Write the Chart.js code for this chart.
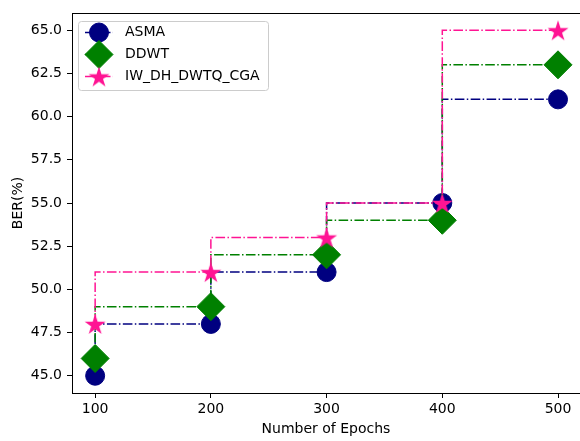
<!DOCTYPE html>
<html><head><meta charset="utf-8">
<script src="https://cdn.jsdelivr.net/npm/chart.js@4.4.1/dist/chart.umd.min.js"></script>
<style>html,body{margin:0;padding:0;background:#fff}#wrap{width:580px;height:441px}</style>
</head><body><div id="wrap"><canvas id="c" width="580" height="441"></canvas></div>
<script>
// ---- data ----
const epochs = [100, 200, 300, 400, 500];
const asma = [45, 48, 51, 55, 61];
const ddwt = [46, 49, 52, 54, 63];
const iwdh = [48, 51, 53, 55, 65];
const seriesNames = ['ASMA', 'DDWT', 'IW_DH_DWTQ_CGA'];
const xTickValues = [100, 200, 300, 400, 500];
const yTickValues = [45, 47.5, 50, 52.5, 55, 57.5, 60, 62.5, 65];

// ---- styles ----
const FONT = '"DejaVu Sans", sans-serif';
const colors = ['#000080', '#008000', '#FF1493'];
const dash = [9.6, 2.4, 1.5, 2.4];

function makeStar(r, color) {
  const s = Math.ceil(r * 2 + 2);
  const c = document.createElement('canvas');
  c.width = s; c.height = s;
  const g = c.getContext('2d');
  g.fillStyle = color;
  g.beginPath();
  const cx = s / 2, cy = s / 2 + r * 0.1;
  for (let i = 0; i < 10; i++) {
    const a = -Math.PI / 2 + i * Math.PI / 5;
    const rr = i % 2 ? r * 0.382 : r;
    const px = cx + rr * Math.cos(a), py = cy + rr * Math.sin(a);
    if (i === 0) g.moveTo(px, py); else g.lineTo(px, py);
  }
  g.closePath();
  g.fill();
  return c;
}
const starImg = makeStar(11, colors[2]);

function pts(ys) { return epochs.map((x, i) => ({x: x, y: ys[i]})); }

const styles = [
  {pointStyle: 'circle', radius: 9.5},
  {pointStyle: 'rectRot', radius: 14},
  {pointStyle: starImg, radius: 11}
];
const seriesData = [asma, ddwt, iwdh];

const datasets = seriesData.map((ys, i) => ({
  label: seriesNames[i],
  data: pts(ys),
  borderColor: colors[i],
  backgroundColor: colors[i],
  borderWidth: 1.5,
  borderDash: dash,
  stepped: 'after',
  pointStyle: styles[i].pointStyle,
  pointRadius: styles[i].radius,
  pointBorderWidth: 1,
  pointBorderColor: colors[i],
  pointBackgroundColor: colors[i],
  order: 2 - i,
  clip: false
}));

const framePlugin = {
  id: 'frame',
  afterDraw(chart) {
    const ctx = chart.ctx;
    const a = chart.chartArea;
    ctx.save();
    ctx.strokeStyle = '#000';
    ctx.lineWidth = 1;
    ctx.beginPath();
    ctx.moveTo(a.left, a.top + 0.5);
    ctx.lineTo(a.right, a.top + 0.5);
    ctx.stroke();

    // legend
    const bx = 78.5, by = 21.5, bw = 190, bh = 69;
    ctx.fillStyle = 'rgba(255,255,255,0.8)';
    ctx.strokeStyle = '#cccccc';
    ctx.lineWidth = 1;
    ctx.beginPath();
    ctx.roundRect(bx, by, bw, bh, 3);
    ctx.fill();
    ctx.stroke();
    const rowsY = [32.5, 54.5, 76.5];
    for (let i = 0; i < 3; i++) {
      const y = rowsY[i];
      ctx.setLineDash(dash);
      ctx.strokeStyle = colors[i];
      ctx.lineWidth = 1.5;
      ctx.beginPath();
      ctx.moveTo(85, y);
      ctx.lineTo(113, y);
      ctx.stroke();
      ctx.setLineDash([]);
      ctx.fillStyle = colors[i];
      ctx.strokeStyle = colors[i];
      ctx.lineWidth = 1;
      if (typeof styles[i].pointStyle === 'string') {
        ctx.beginPath();
        if (styles[i].pointStyle === 'circle') {
          ctx.arc(99, y, styles[i].radius, 0, Math.PI * 2);
        } else {
          const r = styles[i].radius;
          ctx.moveTo(99 - r, y); ctx.lineTo(99, y - r); ctx.lineTo(99 + r, y); ctx.lineTo(99, y + r); ctx.closePath();
        }
        ctx.fill();
        ctx.stroke();
      } else {
        const img = styles[i].pointStyle;
        ctx.drawImage(img, 99 - img.width / 2, y - img.height / 2);
      }
      ctx.fillStyle = '#000';
      ctx.font = '14px ' + FONT;
      ctx.textAlign = 'left';
      ctx.textBaseline = 'middle';
      ctx.fillText(seriesNames[i], 125, y);
    }
    ctx.restore();
  }
};

new Chart(document.getElementById('c'), {
  type: 'line',
  data: {datasets: datasets},
  options: {
    responsive: false,
    animation: false,
    devicePixelRatio: 1,
    layout: {autoPadding: false, padding: {left: 0, right: 0, top: 13, bottom: 0}},
    plugins: {legend: {display: false}, tooltip: {enabled: false}},
    scales: {
      x: {
        type: 'linear', min: 80, max: 519,
        afterBuildTicks: s => { s.ticks = xTickValues.map(v => ({value: v})); },
        afterFit: s => { s.height = 48; s.paddingLeft = 0; s.paddingRight = 0; },
        ticks: {color: '#000', font: {family: FONT, size: 14}, padding: 3, maxRotation: 0,
          callback: v => String(v)},
        grid: {drawOnChartArea: false, color: '#000', tickLength: 5, tickWidth: 1},
        border: {color: '#000', width: 1},
        title: {display: true, text: 'Number of Epochs', color: '#000',
          font: {family: FONT, size: 14}, padding: {top: 0, bottom: 3}}
      },
      y: {
        type: 'linear', min: 44, max: 66,
        afterBuildTicks: s => { s.ticks = yTickValues.map(v => ({value: v})); },
        afterFit: s => { s.width = 72; s.paddingTop = 0; s.paddingBottom = 0; },
        ticks: {color: '#000', font: {family: FONT, size: 14}, padding: 5,
          callback: v => Number(v).toFixed(1)},
        grid: {drawOnChartArea: false, color: '#000', tickLength: 5, tickWidth: 1},
        border: {color: '#000', width: 1},
        title: {display: true, text: 'BER(%)', color: '#000',
          font: {family: FONT, size: 14}, padding: {top: 10, bottom: 0}}
      }
    }
  },
  plugins: [framePlugin]
});
</script>
</body></html>
